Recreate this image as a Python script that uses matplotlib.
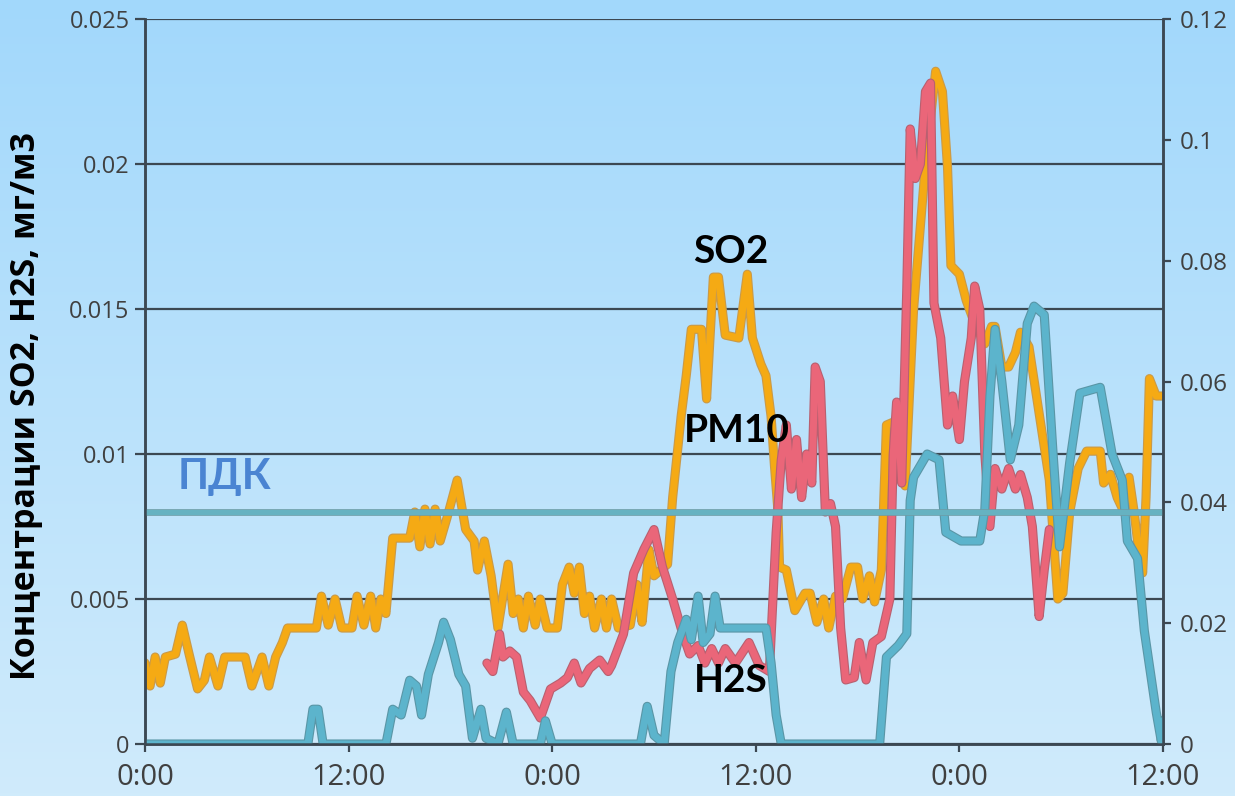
import numpy as np
import matplotlib.pyplot as plt
from matplotlib import patheffects as pe
from matplotlib.colors import LinearSegmentedColormap

# hours from the start of the record, concentrations in mg/m3
so2_t = [0.0, 0.3, 0.6, 0.9, 1.2, 1.8, 2.2, 2.6, 3.1, 3.5, 3.8, 4.3, 4.7, 5.9, 6.3, 6.9,
         7.3, 7.7, 8.1, 8.4, 10.1, 10.4, 10.8, 11.2, 11.6, 12.2, 12.5, 12.9, 13.3, 13.6,
         13.9, 14.2, 14.6, 15.6, 15.9, 16.2, 16.5, 16.8, 17.1, 17.4, 17.8, 18.4, 18.9,
         19.4, 19.6, 20.0, 20.4, 20.8, 21.4, 21.7, 22.0, 22.3, 22.6, 23.0, 23.3, 23.7,
         24.3, 24.6, 25.0, 25.3, 25.6, 25.9, 26.2, 26.5, 26.9, 27.2, 27.5, 27.9, 28.6,
         29.0, 29.3, 29.7, 30.0, 30.4, 30.8, 31.1, 31.4, 31.6, 31.9, 32.2, 32.8, 33.1,
         33.5, 33.8, 34.2, 35.0, 35.5, 35.8, 36.3, 36.6, 36.9, 37.1, 37.3, 37.4, 37.8,
         38.3, 38.9, 39.2, 39.6, 40.0, 40.3, 40.7, 41.1, 41.6, 42.0, 42.3, 42.7, 43.0,
         43.4, 43.7, 44.1, 44.5, 44.8, 45.3, 46.0, 46.6, 47.0, 47.3, 47.5, 48.0, 48.4,
         48.9, 49.5, 49.9, 50.1, 50.5, 50.9, 51.3, 51.6, 52.1, 52.7, 53.3, 53.8, 54.1,
         54.5, 55.0, 55.5, 56.3, 56.5, 56.9, 57.3, 57.7, 58.0, 58.3, 58.5, 58.8, 59.0,
         59.2, 59.6, 60.0]
so2 = [0.0028, 0.0020, 0.0030, 0.0021, 0.0030, 0.0031, 0.0041, 0.0031, 0.0019, 0.0022,
       0.0030, 0.0020, 0.0030, 0.0030, 0.0020, 0.0030, 0.0020, 0.0030, 0.0035, 0.0040,
       0.0040, 0.0051, 0.0041, 0.0050, 0.0040, 0.0040, 0.0051, 0.0041, 0.0051, 0.0040,
       0.0050, 0.0045, 0.0071, 0.0071, 0.0080, 0.0068, 0.0081, 0.0069, 0.0081, 0.0070,
       0.0078, 0.0091, 0.0074, 0.0070, 0.0060, 0.0070, 0.0058, 0.0040, 0.0062, 0.0045,
       0.0050, 0.0040, 0.0051, 0.0041, 0.0050, 0.0040, 0.0040, 0.0055, 0.0061, 0.0052,
       0.0061, 0.0045, 0.0051, 0.0040, 0.0050, 0.0040, 0.0050, 0.0040, 0.0041, 0.0055,
       0.0042, 0.0067, 0.0058, 0.0060, 0.0062, 0.0085, 0.0102, 0.0113, 0.0127, 0.0143,
       0.0143, 0.0119, 0.0161, 0.0161, 0.0141, 0.0140, 0.0162, 0.0140, 0.0131, 0.0127,
       0.0113, 0.0096, 0.0081, 0.0061, 0.0060, 0.0046, 0.0052, 0.0052, 0.0042, 0.0050,
       0.0040, 0.0051, 0.0050, 0.0061, 0.0061, 0.0050, 0.0058, 0.0049, 0.0060, 0.0110,
       0.0111, 0.0095, 0.0089, 0.0150, 0.0200, 0.0232, 0.0225, 0.0199, 0.0165, 0.0162,
       0.0153, 0.0145, 0.0138, 0.0144, 0.0144, 0.0130, 0.0130, 0.0135, 0.0142, 0.0137,
       0.0114, 0.0091, 0.0050, 0.0052, 0.0080, 0.0095, 0.0101, 0.0101, 0.0090, 0.0093,
       0.0085, 0.0080, 0.0092, 0.0080, 0.0070, 0.0059, 0.0085, 0.0126, 0.0120, 0.0120]

pm10_t = [20.15, 20.5, 20.9, 21.1, 21.5, 21.9, 22.3, 22.7, 23.3, 23.9, 24.5, 24.9, 25.3,
          25.7, 26.2, 26.8, 27.3, 27.5, 28.2, 28.8, 29.4, 30.0, 30.5, 31.1, 31.7, 32.1,
          32.6, 33.0, 33.4, 33.8, 34.2, 34.8, 35.6, 36.2, 36.8, 37.2, 37.5, 37.8, 38.1,
          38.4, 38.7, 39.0, 39.3, 39.5, 39.8, 40.1, 40.4, 40.7, 41.0, 41.3, 41.8, 42.1,
          42.5, 42.9, 43.4, 43.9, 44.1, 44.3, 44.6, 44.9, 45.1, 45.4, 45.7, 46.0, 46.3,
          46.5, 46.9, 47.3, 47.6, 48.0, 48.3, 48.7, 48.9, 49.2, 49.5, 49.8, 50.1, 50.5,
          50.9, 51.3, 51.6, 52.0, 52.3, 52.7, 53.0, 53.3]
pm10 = [0.0134, 0.0120, 0.0182, 0.0144, 0.0154, 0.0144, 0.0086, 0.0072, 0.0043, 0.0091,
        0.0101, 0.0110, 0.0134, 0.0101, 0.0125, 0.0139, 0.0120, 0.0130, 0.0182, 0.0283,
        0.0322, 0.0355, 0.0293, 0.0240, 0.0182, 0.0149, 0.0163, 0.0134, 0.0158, 0.0134,
        0.0158, 0.0134, 0.0168, 0.0130, 0.0120, 0.0350, 0.0470, 0.0528, 0.0422, 0.0504,
        0.0408, 0.0480, 0.0432, 0.0624, 0.0600, 0.0384, 0.0398, 0.0360, 0.0192, 0.0106,
        0.0110, 0.0168, 0.0106, 0.0168, 0.0178, 0.0240, 0.0480, 0.0566, 0.0432, 0.0754,
        0.1018, 0.0936, 0.0960, 0.1080, 0.1094, 0.0730, 0.0672, 0.0528, 0.0576, 0.0504,
        0.0600, 0.0672, 0.0758, 0.0720, 0.0480, 0.0360, 0.0456, 0.0422, 0.0456, 0.0422,
        0.0446, 0.0408, 0.0360, 0.0211, 0.0288, 0.0355]

h2s_t = [0.0, 9.6, 9.9, 10.2, 10.5, 14.2, 14.6, 15.1, 15.6, 16.0, 16.3, 16.7, 17.3, 17.6,
         18.0, 18.5, 18.9, 19.3, 19.8, 20.1, 20.8, 21.3, 21.7, 23.3, 23.6, 24.0, 29.2,
         29.6, 30.0, 30.6, 31.0, 31.4, 31.9, 32.2, 32.6, 32.9, 33.3, 33.6, 33.9, 34.8,
         36.6, 36.9, 37.2, 37.5, 43.3, 43.7, 44.4, 44.9, 45.1, 45.3, 46.1, 46.8, 47.2,
         48.1, 49.2, 49.5, 49.8, 50.1, 50.5, 51.0, 51.5, 52.0, 52.4, 53.0, 53.5, 53.9,
         54.5, 55.1, 56.3, 57.0, 57.6, 57.9, 58.5, 58.9, 59.6, 59.9, 60.0]
h2s = [0.0, 0.0, 0.0012, 0.0012, 0.0, 0.0, 0.0012, 0.0010, 0.0022, 0.0020, 0.0010, 0.0024,
       0.0035, 0.0042, 0.0036, 0.0024, 0.0020, 0.0002, 0.0012, 0.0002, 0.0, 0.0011, 0.0,
       0.0, 0.0008, 0.0, 0.0, 0.0013, 0.0003, 0.0, 0.0025, 0.0035, 0.0043, 0.0036, 0.0051,
       0.0035, 0.0038, 0.0051, 0.0040, 0.0040, 0.0040, 0.0028, 0.0010, 0.0, 0.0, 0.0030,
       0.0034, 0.0038, 0.0084, 0.0092, 0.0100, 0.0098, 0.0073, 0.0070, 0.0070, 0.0081,
       0.0120, 0.0143, 0.0125, 0.0098, 0.0110, 0.0145, 0.0151, 0.0148, 0.0102, 0.0068,
       0.0097, 0.0121, 0.0123, 0.0100, 0.0091, 0.0070, 0.0064, 0.0039, 0.0011, 0.0001,
       0.0008]

pdk = 0.008
xticks = [0, 12, 24, 36, 48, 60]
xlabels = ['0:00', '12:00', '0:00', '12:00', '0:00', '12:00']
left_ticks = [0, 0.005, 0.01, 0.015, 0.02, 0.025]
left_labels = ['0', '0.005', '0.01', '0.015', '0.02', '0.025']
right_ticks = [0, 0.02, 0.04, 0.06, 0.08, 0.1, 0.12]
right_labels = ['0', '0.02', '0.04', '0.06', '0.08', '0.1', '0.12']

axis_col = '#3c4852'
tick_col = '#404040'

fig = plt.figure(figsize=(12.35, 7.96), dpi=100)

# soft blue backdrop, darker at the top
bg = fig.add_axes([0, 0, 1, 1], zorder=-10)
cmap = LinearSegmentedColormap.from_list('sky', ['#a2d8fb', '#d0ebfb'])
bg.imshow(np.linspace(0, 1, 256)[:, None], aspect='auto', cmap=cmap, extent=[0, 1, 0, 1])
bg.axis('off')

ax = fig.add_axes([0.1174, 0.0653, 0.8243, 0.9108])
ax.patch.set_alpha(0)
ax2 = ax.twinx()

ax.set_xlim(0, 60)
ax.set_ylim(0, 0.025)
ax2.set_ylim(0, 0.12)

ax.set_yticks(left_ticks)
ax.set_yticklabels(left_labels)
ax2.set_yticks(right_ticks)
ax2.set_yticklabels(right_labels)
ax.set_xticks(xticks)
ax.set_xticklabels(xlabels)

ax.grid(axis='y', color=axis_col, lw=1.6)
ax.set_axisbelow(True)

for a in (ax, ax2):
    a.spines['top'].set_visible(False)
    for s in ('left', 'right', 'bottom'):
        a.spines[s].set_color(axis_col)
        a.spines[s].set_linewidth(1.8)
ax.tick_params(axis='y', colors=axis_col, length=7, width=1.6, pad=4,
               labelcolor=tick_col, labelsize=17)
ax2.tick_params(axis='y', colors=axis_col, length=6, width=1.6, pad=6,
                labelcolor=tick_col, labelsize=17.5)
ax.tick_params(axis='x', colors=axis_col, length=6, width=1.6, pad=8,
               labelcolor=tick_col, labelsize=21)
for lab in ax.get_xticklabels() + ax.get_yticklabels() + ax2.get_yticklabels():
    lab.set_family('Open Sans')


def edged(col):
    return [pe.Stroke(linewidth=6.6, foreground=col), pe.Normal()]


line_kw = dict(lw=5.0, solid_joinstyle='round', solid_capstyle='round')
ax.plot(so2_t, so2, color='#f5aa14', path_effects=edged('#c99a4a'), **line_kw)
ax2.plot(pm10_t, pm10, color='#ea6679', path_effects=edged('#b86070'), **line_kw)
ax2.plot(h2s_t, h2s, color='#5cb4cc', transform=ax.transData,
         path_effects=edged('#5a96a6'), **line_kw)
ax2.plot([0, 60], [pdk, pdk], color='#66b2c1', lw=3.6, transform=ax.transData,
         path_effects=[pe.Stroke(linewidth=4.8, foreground='#6d9ea8'), pe.Normal()])

lbl = dict(family='Lato', fontweight='bold', transform=ax.transData,
           ha='center', va='center', zorder=10)
ax2.text(34.5, 0.0170, 'SO2', fontsize=28, color='black', **lbl)
ax2.text(34.9, 0.0108, 'PM10', fontsize=28, color='black', **lbl)
ax2.text(34.5, 0.0022, 'H2S', fontsize=28, color='black', **lbl)
ax2.text(4.7, 0.0092, 'ПДК', fontsize=30, color='#4a84d2', **lbl)

fig.text(0.021, 0.49, 'Концентрации SO2, H2S, мг/м3', rotation=90, ha='center',
         va='center', fontsize=24.5, fontweight='bold', family='Open Sans')

fig.savefig('out.png', dpi=100)
